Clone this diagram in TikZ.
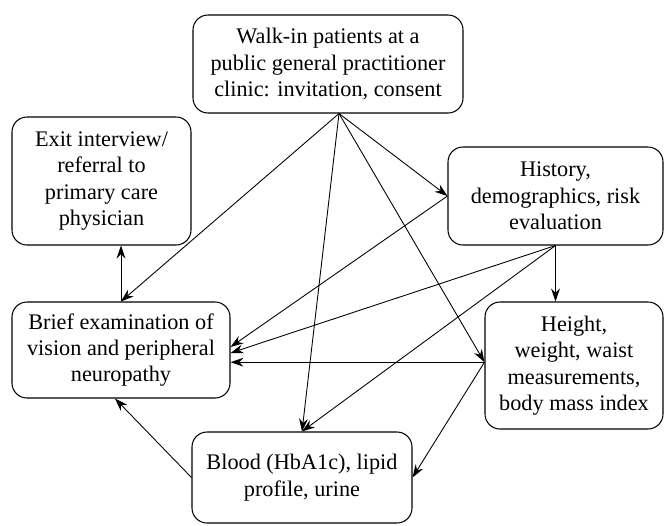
\documentclass[tikz,border=0pt]{standalone}
\usepackage{fontspec}
\setmainfont{Liberation Serif}
\usepackage{tikz}
\usetikzlibrary{arrows.meta}

\tikzset{
  box/.style={draw, rounded corners=0.45cm, line width=0.9pt, align=center,
    inner sep=0pt, font=\fontsize{19}{22.5}\selectfont},
  link/.style={-{Stealth[length=11pt,width=7.5pt]}, line width=0.75pt}
}

\begin{document}
\begin{tikzpicture}
      \useasboundingbox (0,0) rectangle (19.95,-15.75);

      % boxes
      \node[box, minimum width=8.1cm, minimum height=2.94cm] (walkin) at (9.84,-1.92)
        {Walk-in patients at a\\ public general practitioner\\ clinic: invitation, consent};
      \node[box, minimum width=5.37cm, minimum height=3.84cm] (exit) at (3.045,-5.43)
        {Exit interview/\\ referral to\\ primary care\\ physician};
      \node[box, minimum width=6.54cm, minimum height=2.88cm] (brief) at (3.63,-10.5)
        {Brief examination of\\ vision and peripheral\\ neuropathy};
      \node[box, minimum width=6.45cm, minimum height=2.94cm] (history) at (16.665,-5.88)
        {History,\\ demographics, risk\\ evaluation};
      \node[box, minimum width=5.34cm, minimum height=3.81cm] (height) at (17.22,-10.965)
        {Height,\\ weight, waist\\ measurements,\\ body mass index};
      \node[box, minimum width=6.6cm, minimum height=2.73cm] (blood) at (9.06,-14.325)
        {Blood (HbA1c), lipid\\ profile, urine};

      \coordinate (src) at ([xshift=0.33cm]walkin.south);
      \coordinate (hw) at ([yshift=0.1cm]height.west);

      % from the clinic
      \draw[link] (src) -- (brief.north);
      \draw[link] (src) -- (history.west);
      \draw[link] (src) -- (hw);
      \draw[link] (src) -- (blood.north);

      % from history
      \draw[link] (history.west) -- ([yshift=0.09cm]brief.east);
      \draw[link] (history.south) -- ([yshift=-0.09cm]brief.east);
      \draw[link] (history.south) -- (blood.north);
      \draw[link] (history.south) -- (history.south |- height.north);

      % from height
      \draw[link] (hw) -- (hw -| brief.east);
      \draw[link] (hw) -- (blood.east);

      % back to the examination, then exit
      \draw[link] (blood.west) -- ([xshift=-0.18cm]brief.south);
      \draw[link] (brief.north) -- (brief.north |- exit.south);
\end{tikzpicture}
\end{document}
